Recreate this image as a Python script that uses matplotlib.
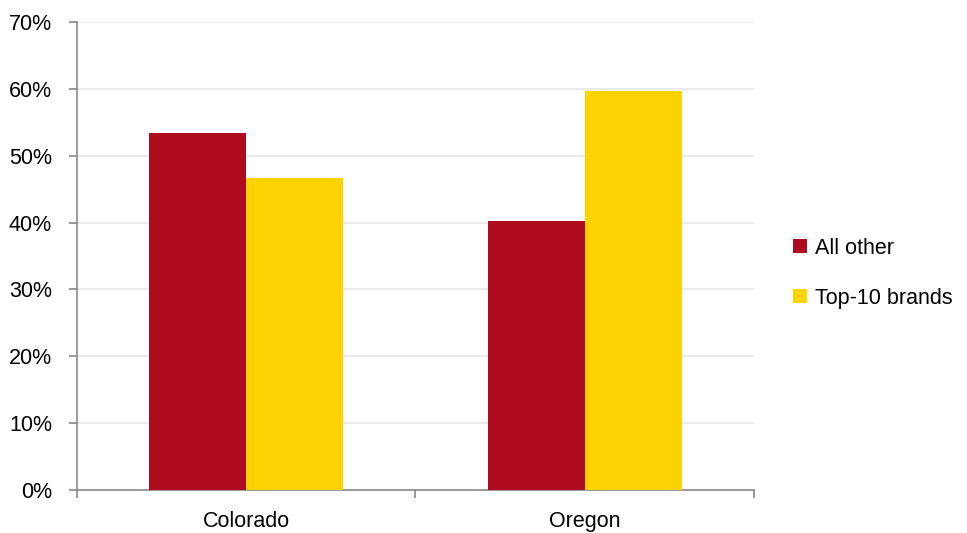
import numpy as np
import matplotlib.pyplot as plt
from matplotlib.ticker import FixedLocator, PercentFormatter

# Data
states = ["Colorado", "Oregon"]
all_other = [53.4, 40.3]
top10 = [46.6, 59.7]
series_names = ["All other", "Top-10 brands"]
colors = ["#AE0C1E", "#FFD200"]

plt.rcParams["font.family"] = ["Liberation Sans", "DejaVu Sans"]
FS = 15.5

fig = plt.figure(figsize=(9.67, 5.33), dpi=100)
ax = fig.add_axes([0.0796, 0.0807, 0.7001, 0.878])

x = np.arange(len(states))
w = 0.286
ax.bar(x - w / 2, all_other, w, color=colors[0], label=series_names[0], zorder=3)
ax.bar(x + w / 2, top10, w, color=colors[1], label=series_names[1], zorder=3)

ax.set_xlim(-0.5, len(states) - 0.5)
ax.set_ylim(0, 70)
ax.set_yticks(np.arange(0, 71, 10))
ax.yaxis.set_major_formatter(PercentFormatter(decimals=0))
ax.grid(axis="y", color="#e6e6e6", linewidth=1.2, zorder=0)

# category boundaries as ticks, labels at centers
ax.xaxis.set_major_locator(FixedLocator(np.arange(len(states) + 1) - 0.5))
ax.xaxis.set_minor_locator(FixedLocator(x))
ax.set_xticklabels([], minor=False)
ax.set_xticklabels(states, minor=True)
ax.tick_params(axis="x", which="major", length=6, width=1.2, color="#888888", direction="out")
ax.tick_params(axis="x", which="minor", length=0, pad=15, labelsize=FS)
ax.tick_params(axis="y", length=6, width=1.2, color="#888888", pad=12, labelsize=FS)

for side in ["top", "right"]:
    ax.spines[side].set_visible(False)
for side in ["left", "bottom"]:
    ax.spines[side].set_color("#888888")
    ax.spines[side].set_linewidth(1.2)

ax.legend(loc="center left", bbox_to_anchor=(1.039, 0.463), frameon=False, fontsize=FS,
          handlelength=0.65, handleheight=0.65, handletextpad=0.35, labelspacing=1.35,
          borderaxespad=0.2)

fig.savefig("out.png", dpi=100)
